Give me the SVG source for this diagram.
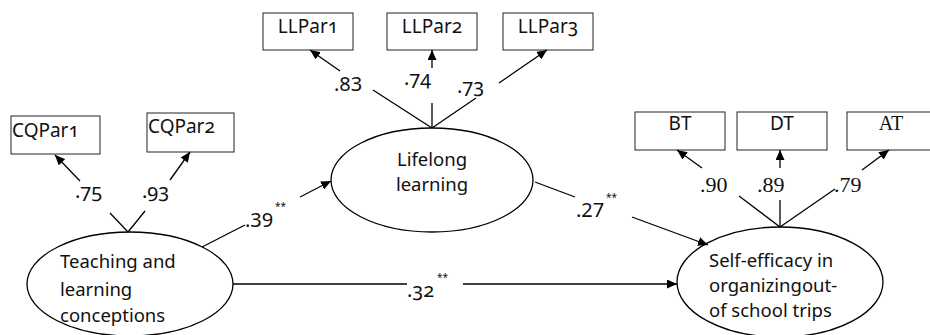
<svg xmlns="http://www.w3.org/2000/svg" width="930" height="335" viewBox="0 0 930 335">
<defs>
<marker id="ah" markerUnits="userSpaceOnUse" markerWidth="11" markerHeight="9" refX="10" refY="4.5" orient="auto">
<path d="M0,0 L10,4.5 L0,9 z" fill="#000"/>
</marker>
<style>
.box{fill:#fff;stroke:#222;stroke-width:1}
.lat{fill:#fff;stroke:#000;stroke-width:1.3}
.t{font-family:"Noto Sans","Open Sans","DejaVu Sans",sans-serif;font-size:18.5px;fill:#111}
.b{font-size:19px}
.l{font-size:20px}
.os{font-variant-numeric:oldstyle-nums;font-feature-settings:"onum" 1}
.s{font-family:"Liberation Serif","Times New Roman",serif;font-size:22px;fill:#111}
.st{font-family:"Noto Sans","Open Sans",sans-serif;font-size:10px;fill:#111}
.c line{stroke:#000;stroke-width:1.3}
.ar{marker-end:url(#ah)}
</style>
</defs>
<rect width="930" height="335" fill="#fff"/>

<g id="CQPar1"><rect class="box" x="11" y="116" width="89" height="38"/><text class="t b os" x="12" y="137">CQPar1</text></g>
<g id="CQPar2"><rect class="box" x="147" y="113" width="87" height="39"/><text class="t b os" x="148" y="133">CQPar2</text></g>
<g id="LLPar1"><rect class="box" x="263" y="13" width="90" height="37"/><text class="t b os" x="308" y="33" text-anchor="middle">LLPar1</text></g>
<g id="LLPar2"><rect class="box" x="387" y="13" width="90" height="37"/><text class="t b os" x="432" y="33" text-anchor="middle">LLPar2</text></g>
<g id="LLPar3"><rect class="box" x="503" y="13" width="90" height="37"/><text class="t b os" x="548" y="33" text-anchor="middle">LLPar3</text></g>
<g id="BT"><rect class="box" x="635" y="112" width="90" height="38"/><text class="t b" x="680" y="130" text-anchor="middle">BT</text></g>
<g id="DT"><rect class="box" x="737" y="112" width="90" height="38"/><text class="t b" x="782" y="130" text-anchor="middle">DT</text></g>
<g id="AT"><rect class="box" x="847" y="112" width="90" height="38"/><text class="s" x="891" y="130" text-anchor="middle" style="font-size:20px">AT</text></g>

<g id="Teaching"><ellipse class="lat" cx="130" cy="284" rx="103" ry="52"/>
<text class="t" x="60" y="268">Teaching and</text>
<text class="t" x="60" y="296">learning</text>
<text class="t" x="60" y="322">conceptions</text></g>

<g id="Lifelong"><ellipse class="lat" cx="432" cy="180" rx="101" ry="52"/>
<text class="t" x="432" y="166" text-anchor="middle">Lifelong</text>
<text class="t" x="432" y="191" text-anchor="middle">learning</text></g>

<g id="SelfEfficacy"><ellipse class="lat" cx="780" cy="282" rx="103" ry="55"/>
<text class="t" x="709" y="267">Self-efficacy in</text>
<text class="t" x="709" y="292">organizingout-</text>
<text class="t" x="709" y="317">of school trips</text></g>

<g id="connectors" class="c">
<line x1="128" y1="232" x2="110" y2="213"/><line class="ar" x1="80" y1="181" x2="55" y2="155"/>
<line x1="128" y1="232" x2="145" y2="211"/><line class="ar" x1="170" y1="180" x2="190" y2="152"/>
<line x1="432" y1="128" x2="373" y2="90"/><line class="ar" x1="340" y1="71" x2="310" y2="50"/>
<line x1="432" y1="128" x2="432" y2="103"/><line class="ar" x1="432" y1="68" x2="432" y2="50"/>
<line x1="432" y1="128" x2="476" y2="98"/><line class="ar" x1="499" y1="83" x2="547" y2="50"/>
<line x1="780" y1="227" x2="739" y2="196"/><line class="ar" x1="702" y1="168" x2="677" y2="150"/>
<line x1="780" y1="227" x2="780" y2="200"/><line class="ar" x1="780" y1="168" x2="780" y2="150"/>
<line x1="780" y1="227" x2="835" y2="189"/><line class="ar" x1="862" y1="170" x2="889" y2="150"/>
<line x1="202" y1="247" x2="245" y2="225"/><line class="ar" x1="300" y1="197" x2="331" y2="181"/>
<line x1="535" y1="182" x2="575" y2="197"/><line class="ar" x1="632" y1="217" x2="708" y2="245"/>
<line x1="233" y1="284" x2="407" y2="284"/><line class="ar" x1="463" y1="284" x2="677" y2="284"/>
</g>

<g id="labels">
<text class="t l os" x="75" y="198">.75</text>
<text class="t l os" x="142" y="198">.93</text>
<text class="t l" x="334" y="91">.83</text>
<text class="t l os" x="404" y="85">.74</text>
<text class="t l os" x="457" y="93">.73</text>
<text class="s" x="700" y="192">.90</text>
<text class="s" x="757" y="192">.89</text>
<text class="s" x="834" y="192">.79</text>
<text class="t l" x="245" y="227">.39</text><text class="st" x="275" y="210">**</text>
<text class="t l" x="576" y="217">.27</text><text class="st" x="606" y="201">**</text>
<text class="t l os" x="407" y="297">.32</text><text class="st" x="437" y="281">**</text>
</g>
</svg>
